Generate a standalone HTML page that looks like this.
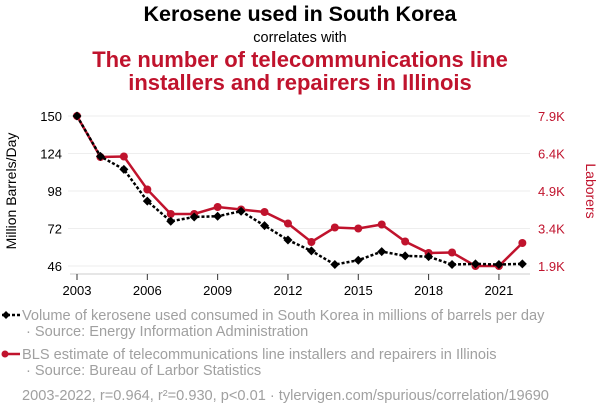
<!DOCTYPE html>
<html><head><meta charset="utf-8"><style>
body{margin:0;background:#fff;width:600px;height:414px;overflow:hidden;font-family:"Liberation Sans",sans-serif}
svg{display:block}
</style></head><body>
<svg id="c" width="600" height="414">
<text x="300" y="21" text-anchor="middle" font-size="21.5" font-weight="bold" fill="#000">Kerosene used in South Korea</text>
<text x="300" y="42" text-anchor="middle" font-size="14.5" fill="#000">correlates with</text>
<text x="300" y="67" text-anchor="middle" font-size="22" font-weight="bold" fill="#c0132d">The number of telecommunications line</text>
<text x="300" y="90" text-anchor="middle" font-size="22" font-weight="bold" fill="#c0132d">installers and repairers in Illinois</text>
<text transform="translate(16,191) rotate(-90)" text-anchor="middle" font-size="14" fill="#000">Million Barrels/Day</text>
<text transform="translate(586,191) rotate(90)" text-anchor="middle" font-size="14" fill="#c0132d">Laborers</text>
<g id="grid"></g><g id="axes"></g><g id="series"></g>
<g>
<line x1="2" y1="315" x2="20" y2="315" stroke="#000" stroke-width="2.5" stroke-dasharray="3,2"/>
<path d="M2 315 l4 -4 l4 4 l-4 4z" fill="#000"/>
<text x="22" y="320" font-size="14.6" fill="#a0a0a0">Volume of kerosene used consumed in South Korea in millions of barrels per day</text>
<text x="26" y="336" font-size="14.6" fill="#a0a0a0">· Source: Energy Information Administration</text>
</g>
<g>
<line x1="4" y1="354" x2="20" y2="354" stroke="#c0132d" stroke-width="2.5"/>
<circle cx="5" cy="354" r="3.5" fill="#c0132d"/>
<text x="22" y="359" font-size="14.6" fill="#a0a0a0">BLS estimate of telecommunications line installers and repairers in Illinois</text>
<text x="26" y="375" font-size="14.6" fill="#a0a0a0">· Source: Bureau of Larbor Statistics</text>
</g>
<text x="22" y="400" font-size="14.6" fill="#a0a0a0">2003-2022, r=0.964, r²=0.930, p&lt;0.01 · tylervigen.com/spurious/correlation/19690</text>
</svg>
<script>
const years=[2003,2004,2005,2006,2007,2008,2009,2010,2011,2012,2013,2014,2015,2016,2017,2018,2019,2020,2021,2022];
const kerosene=[150,122,113,91,77,80,80.5,84,74,64,56.5,47,50,56,53,52.5,47,47.5,47,47.5];
const laborers=[7.9,6.26,6.28,4.96,3.98,3.98,4.26,4.16,4.06,3.6,2.86,3.44,3.4,3.56,2.88,2.42,2.44,1.9,1.9,2.82];
const leftTicks=[46,72,98,124,150];
const rightTicks=[1.9,3.4,4.9,6.4,7.9];
const rightTickLabels=["1.9K","3.4K","4.9K","6.4K","7.9K"];
const xTicks=[2003,2006,2009,2012,2015,2018,2021];
const NS="http://www.w3.org/2000/svg";
const X=y=>77+(y-2003)*23.44;
const YL=v=>266-(v-46)/104*150;
const YR=v=>266-(v-1.9)/6*150;
function mk(tag,attrs,parent){const e=document.createElementNS(NS,tag);for(const k in attrs)e.setAttribute(k,attrs[k]);parent.appendChild(e);return e;}
const grid=document.getElementById('grid'),axes=document.getElementById('axes'),ser=document.getElementById('series');
leftTicks.forEach((t,i)=>{
 const l=mk('line',{x1:68,x2:530,y1:YL(t),y2:YL(t),stroke:'#eee','stroke-width':1},grid);
 
 
 const tx=mk('text',{x:62,y:YL(t)+5,'text-anchor':'end','font-size':13,fill:'#000'},axes);
 tx.textContent=t;
 
 
});
rightTicks.forEach((t,i)=>{
 const tx=mk('text',{x:538,y:YR(t)+5,'font-size':13,fill:'#c0132d'},axes);
 tx.textContent=rightTickLabels[i];
 
 
});
const ax=mk('line',{x1:70,x2:530,y1:274,y2:274,stroke:'#ccc','stroke-width':1},axes);


xTicks.forEach(t=>{
 const tk=mk('line',{x1:X(t),x2:X(t),y1:274,y2:280,stroke:'#333'},axes);
 
 
 const tx=mk('text',{x:X(t),y:295,'text-anchor':'middle','font-size':13,fill:'#000'},axes);
 tx.textContent=t;
 
 
});
const rl=mk('polyline',{points:years.map((y,i)=>X(y)+','+YR(laborers[i])).join(' '),fill:'none',stroke:'#c0132d','stroke-width':2.5},ser);


years.forEach((y,i)=>{
 const c=mk('circle',{cx:X(y),cy:YR(laborers[i]),r:4,fill:'#c0132d'},ser);
 
 
});
const kl=mk('polyline',{points:years.map((y,i)=>X(y)+','+YL(kerosene[i])).join(' '),fill:'none',stroke:'#000','stroke-width':2.5,'stroke-dasharray':'3,2'},ser);


years.forEach((y,i)=>{
 const x=X(y),yy=YL(kerosene[i]);
 const d=mk('path',{d:`M${x-4.5} ${yy} L${x} ${yy-4.5} L${x+4.5} ${yy} L${x} ${yy+4.5}Z`,fill:'#000'},ser);
 
 
});
</script>
</body></html>
